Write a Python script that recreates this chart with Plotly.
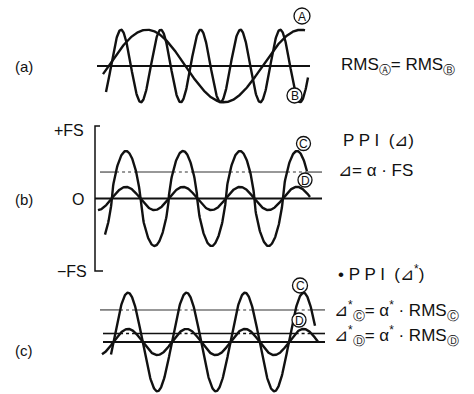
import numpy as np
import plotly.graph_objects as go

# ---------------------------------------------------------------------------
# Signal parameters (amplitudes in full-scale units, time in drawing units)
# ---------------------------------------------------------------------------
FS_PX = 72.5  # drawing units per full scale

# (a) two signals with the same RMS value
a_names = ["A", "B"]
a_amp = [0.50, 0.50]
a_period = [154.0, 39.8]
a_crest = [147.0, 121.0]
a_start = [103.0, 106.0]
a_end = [305.0, 308.0]
a_shape = [1.0, 1.0]

# (b) fixed threshold PPI: threshold = alpha * FS
b_names = ["C", "D"]
b_amp = [0.655, 0.16]
b_period = [57.0, 57.0]
b_crest = [126.0, 126.0]
b_start = [105.0, 98.0]
b_end = [307.0, 310.0]
b_shape = [0.7, 1.0]
alpha = 0.365

# (c) adaptive threshold PPI: threshold = alpha* * RMS
c_names = ["C", "D"]
c_amp = [0.68, 0.18]
c_period = [58.5, 58.5]
c_crest = [128.0, 128.0]
c_start = [111.0, 102.0]
c_end = [315.0, 318.0]
c_shape = [1.0, 1.0]
alpha_star = 0.92

# ---------------------------------------------------------------------------
# Layout of the three panels (drawing coordinates, y grows downward)
# ---------------------------------------------------------------------------
W, H = 474, 394
zero_a, zero_b, zero_c = 66.0, 198.5, 342.0
line_a = (97, 310)
line_b = (95, 322)
line_c = (103, 325)

INK = "#111111"
FONT = "Liberation Sans, Arial, sans-serif"


def wave(t, amp, period, crest, shape):
    c = np.cos(2 * np.pi * (t - crest) / period)
    return amp * np.sign(c) * np.abs(c) ** shape


def to_y(zero, v):
    return zero - np.asarray(v) * FS_PX


fig = go.Figure()


def add_line(xs, ys, width=2.4, color=INK, dash="solid"):
    fig.add_trace(go.Scatter(x=xs, y=ys, mode="lines",
                             line=dict(color=color, width=width, dash=dash),
                             hoverinfo="skip", showlegend=False))


def add_waves(zero, amps, periods, crests, starts, ends, shapes):
    for amp, per, cr, s, e, sh in zip(amps, periods, crests, starts, ends, shapes):
        t = np.linspace(s, e, 500)
        add_line(t, to_y(zero, wave(t, amp, per, cr, sh)))


def add_threshold(zero, level, span, amp, per, cr, sh, width, color):
    """Horizontal threshold: solid outside the humps, dotted where the signal exceeds it."""
    t = np.linspace(span[0], span[1], 900)
    above = wave(t, amp, per, cr, sh) > level
    y = np.full_like(t, to_y(zero, level))
    solid = np.where(above, np.nan, y)
    dotted = np.where(above, y, np.nan)
    add_line(t, solid, width=width, color=color)
    add_line(t, dotted, width=width, color=color, dash="dot")


# (a)
add_line(list(line_a), [zero_a, zero_a], width=1.8)
add_waves(zero_a, a_amp, a_period, a_crest, a_start, a_end, a_shape)

# (b) vertical full-scale axis with end ticks
add_line([100, line_b[0], line_b[0], 103],
         [zero_b - FS_PX, zero_b - FS_PX, zero_b + FS_PX, zero_b + FS_PX], width=1.5)
add_line(list(line_b), [zero_b, zero_b], width=1.8)
add_threshold(zero_b, alpha * 1.0, (100, 322), b_amp[0], b_period[0], b_crest[0], b_shape[0],
              1.1, "#333333")
add_waves(zero_b, b_amp, b_period, b_crest, b_start, b_end, b_shape)

# (c) thresholds scale with each signal's RMS
rms_c = [a / np.sqrt(2) for a in c_amp]
add_line(list(line_c), [zero_c, zero_c], width=1.8)
add_threshold(zero_c, alpha_star * rms_c[0], (100, 325), c_amp[0], c_period[0], c_crest[0],
              c_shape[0], 1.1, "#333333")
add_threshold(zero_c, alpha_star * rms_c[1], line_c, c_amp[1], c_period[1], c_crest[1],
              c_shape[1], 1.6, INK)
add_waves(zero_c, c_amp, c_period, c_crest, c_start, c_end, c_shape)

# circled curve labels
tags = [("A", 302, 16, 8), ("B", 294.5, 95.5, 7.5),
        ("C", 303.5, 143.5, 7), ("D", 305, 180, 7),
        ("C", 300, 285.5, 7.5), ("D", 299, 320, 7)]
shapes = []
annotations = []
for letter, cx, cy, r in tags:
    shapes.append(dict(type="circle", xref="x", yref="y", x0=cx - r, x1=cx + r,
                       y0=cy - r, y1=cy + r, line=dict(color=INK, width=1.3),
                       fillcolor="white", layer="above"))
    annotations.append(dict(x=cx, y=cy + 0.5, text=letter, showarrow=False,
                            font=dict(family=FONT, size=12, color=INK),
                            xanchor="center", yanchor="middle"))


def label(x, y, text, size=17, anchor="left"):
    annotations.append(dict(x=x, y=y, text=text, showarrow=False,
                            font=dict(family=FONT, size=size, color=INK),
                            xanchor=anchor, yanchor="middle"))


label(13, 66, "(a)", 15)
label(13, 199, "(b)", 15)
label(13, 350, "(c)", 15)
label(86, 130, "+FS", 16, "right")
label(86, 199, "O", 16, "right")
label(89, 271, "−FS", 16, "right")

label(339, 66, "RMS<sub>Ⓐ</sub>= RMS<sub>Ⓑ</sub>")
label(341, 140, "P P I  (⊿)")
label(336, 170, "⊿= α · FS")
label(336, 273, "• P P I  (⊿<sup>*</sup>)")
label(332, 310, "⊿<sup>*</sup><sub>Ⓒ</sub>= α<sup>*</sup> · RMS<sub>Ⓒ</sub>")
label(332, 335, "⊿<sup>*</sup><sub>Ⓓ</sub>= α<sup>*</sup> · RMS<sub>Ⓓ</sub>")

fig.update_layout(
    width=W, height=H,
    margin=dict(l=0, r=0, t=0, b=0),
    paper_bgcolor="white", plot_bgcolor="white",
    xaxis=dict(range=[0, W], visible=False, fixedrange=True),
    yaxis=dict(range=[H, 0], visible=False, fixedrange=True),
    shapes=shapes, annotations=annotations,
)

fig.write_html("out.html")
